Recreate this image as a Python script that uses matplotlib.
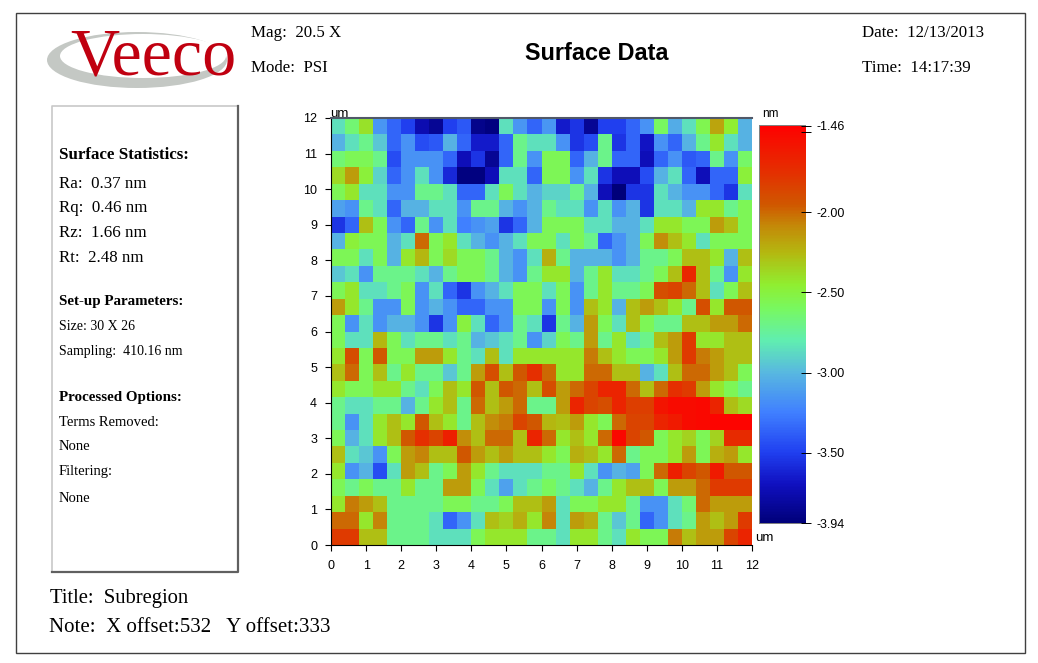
import numpy as np
import matplotlib
matplotlib.use("Agg")
import matplotlib.pyplot as plt
from matplotlib.colors import LinearSegmentedColormap
from matplotlib.patches import Ellipse, Rectangle

W, H = 1038, 663

# surface height in nm, top row of the map first
heights = [
    [-2.85, -2.65, -2.40, -3.15, -3.35, -3.50, -3.75, -3.85, -3.50, -3.40, -3.88, -3.92, -2.85, -3.15, -3.35, -3.15, -3.65, -3.55, -3.85, -3.50, -3.50, -3.35, -3.17, -2.60, -3.05, -2.85, -2.55, -2.18, -2.45, -3.02],
    [-3.02, -2.85, -2.70, -2.95, -3.35, -3.17, -3.45, -3.40, -3.02, -3.35, -3.65, -3.65, -3.35, -2.70, -2.85, -2.85, -3.17, -3.55, -3.45, -2.70, -3.55, -3.35, -3.68, -3.17, -3.35, -3.02, -2.70, -2.42, -2.85, -3.02],
    [-2.65, -2.57, -2.57, -2.70, -3.45, -3.17, -3.17, -3.17, -3.35, -3.72, -3.55, -3.85, -3.35, -2.70, -3.17, -2.57, -2.57, -3.35, -3.02, -2.70, -3.35, -3.35, -3.72, -3.35, -3.17, -3.40, -3.35, -2.70, -3.17, -2.62],
    [-2.38, -2.15, -2.48, -2.90, -3.35, -3.17, -2.85, -3.17, -3.60, -3.92, -3.92, -3.72, -2.85, -2.85, -3.35, -2.57, -2.57, -3.17, -2.85, -3.55, -3.72, -3.72, -3.45, -3.02, -2.85, -3.35, -3.72, -3.35, -3.35, -2.48],
    [-2.57, -2.42, -2.85, -2.85, -3.17, -3.17, -2.70, -2.70, -2.85, -3.35, -3.35, -2.85, -2.57, -2.85, -3.02, -2.90, -2.90, -2.70, -3.02, -3.72, -3.94, -3.55, -3.55, -2.85, -3.02, -3.17, -3.17, -3.35, -3.55, -2.85],
    [-3.10, -3.17, -2.70, -2.85, -3.35, -3.02, -3.02, -2.85, -2.85, -3.17, -2.70, -2.70, -3.02, -3.17, -3.02, -2.70, -2.85, -2.85, -3.17, -2.85, -3.17, -3.02, -3.55, -2.85, -2.85, -3.02, -2.42, -2.42, -2.70, -2.57],
    [-3.55, -3.35, -2.28, -2.57, -3.17, -3.35, -2.70, -3.17, -2.85, -3.25, -3.17, -3.10, -3.55, -3.35, -3.02, -2.57, -2.57, -2.57, -2.85, -2.85, -3.02, -3.02, -2.85, -2.42, -2.42, -2.57, -2.57, -2.15, -2.28, -2.57],
    [-3.02, -2.48, -2.57, -2.57, -3.02, -2.85, -2.00, -2.57, -2.42, -2.85, -3.02, -3.17, -3.02, -2.85, -2.57, -2.57, -2.85, -2.57, -2.70, -3.35, -3.17, -3.02, -2.57, -2.10, -2.28, -2.42, -2.85, -2.57, -2.57, -2.57],
    [-2.57, -2.57, -2.85, -2.57, -3.02, -2.42, -2.25, -2.57, -2.38, -2.57, -2.57, -2.70, -3.02, -3.17, -2.85, -2.22, -2.70, -3.02, -3.02, -3.02, -3.17, -3.02, -2.70, -2.70, -2.57, -2.28, -2.28, -2.42, -3.02, -2.28],
    [-2.95, -2.85, -3.17, -2.70, -2.70, -2.70, -2.85, -3.02, -2.70, -2.57, -2.57, -2.70, -3.02, -3.17, -2.70, -2.42, -2.42, -3.02, -2.70, -2.42, -2.85, -2.85, -2.70, -2.57, -2.28, -1.70, -2.28, -2.70, -3.17, -2.42],
    [-2.57, -2.42, -2.85, -2.85, -2.70, -2.57, -3.17, -2.85, -3.35, -3.55, -3.17, -3.02, -2.85, -2.57, -2.57, -2.85, -2.57, -3.17, -2.70, -2.42, -2.70, -2.70, -2.57, -1.90, -1.85, -2.00, -2.28, -2.85, -2.57, -2.28],
    [-2.15, -2.42, -2.70, -3.17, -3.17, -2.57, -3.17, -3.02, -3.17, -3.35, -3.35, -3.17, -3.17, -2.57, -2.57, -3.17, -2.57, -3.17, -2.28, -2.42, -3.02, -2.28, -2.15, -2.28, -2.42, -2.70, -1.90, -2.42, -1.95, -1.95],
    [-2.57, -3.17, -2.85, -3.17, -3.02, -3.02, -3.17, -3.55, -3.17, -2.50, -2.85, -3.35, -3.17, -2.70, -2.85, -3.55, -2.70, -3.02, -2.15, -2.57, -2.85, -2.28, -2.57, -2.70, -2.70, -2.28, -2.28, -2.15, -2.15, -2.00],
    [-2.57, -2.85, -2.85, -2.25, -2.57, -2.85, -2.70, -2.70, -2.85, -2.70, -3.02, -2.95, -2.85, -2.70, -3.17, -2.90, -2.57, -2.70, -2.15, -2.70, -2.42, -2.85, -2.70, -2.28, -2.15, -1.80, -2.42, -2.42, -2.28, -2.28],
    [-2.42, -1.90, -2.57, -1.95, -2.57, -2.57, -2.15, -2.15, -2.42, -2.70, -2.85, -2.28, -2.85, -2.42, -2.42, -2.42, -2.42, -2.42, -2.05, -2.28, -2.42, -2.57, -2.57, -2.42, -2.15, -1.80, -2.05, -2.15, -2.28, -2.28],
    [-2.28, -2.00, -2.57, -2.28, -2.70, -2.42, -2.70, -2.70, -2.95, -2.70, -2.15, -1.90, -2.28, -1.95, -1.75, -2.00, -2.42, -2.42, -2.00, -2.00, -2.28, -2.28, -3.02, -2.85, -2.28, -2.00, -2.00, -2.15, -2.28, -2.57],
    [-2.42, -2.57, -2.57, -2.42, -2.42, -2.70, -2.85, -2.57, -2.28, -2.42, -1.95, -2.28, -1.95, -2.00, -2.28, -1.90, -2.15, -2.00, -1.85, -1.68, -1.68, -2.00, -2.28, -2.00, -1.75, -1.80, -2.15, -2.42, -2.57, -2.70],
    [-2.70, -2.85, -2.85, -2.70, -2.70, -3.02, -2.70, -2.42, -2.28, -2.70, -2.00, -2.28, -2.15, -2.00, -2.70, -2.70, -2.15, -1.68, -1.85, -1.90, -1.68, -1.82, -1.82, -1.58, -1.52, -1.52, -1.50, -1.68, -2.28, -2.38],
    [-2.70, -3.17, -2.85, -2.42, -2.28, -2.42, -1.95, -2.28, -2.42, -2.70, -2.28, -2.10, -2.05, -1.85, -1.95, -2.25, -2.28, -2.15, -2.42, -2.57, -2.00, -1.85, -1.85, -1.68, -1.62, -1.52, -1.50, -1.48, -1.48, -1.48],
    [-2.57, -3.02, -2.85, -2.42, -2.28, -1.95, -1.75, -1.85, -1.65, -2.10, -2.28, -2.00, -2.00, -2.28, -1.68, -2.00, -2.42, -2.28, -2.42, -2.00, -1.50, -1.85, -1.95, -2.57, -2.42, -2.35, -2.57, -2.35, -1.72, -1.72],
    [-2.28, -2.85, -2.95, -3.17, -2.57, -2.15, -2.08, -2.28, -2.28, -1.95, -2.15, -2.28, -2.15, -2.28, -2.28, -2.42, -2.57, -2.22, -2.28, -2.42, -2.00, -2.70, -2.57, -2.57, -2.42, -2.15, -2.57, -2.22, -2.15, -2.42],
    [-2.42, -3.17, -3.02, -3.45, -2.85, -2.15, -2.28, -2.70, -2.57, -2.15, -2.42, -2.70, -2.85, -2.85, -2.85, -2.70, -2.70, -2.42, -2.85, -3.17, -3.02, -3.10, -2.57, -2.00, -1.65, -1.85, -1.95, -1.62, -1.95, -1.95],
    [-2.57, -2.70, -2.57, -2.70, -2.70, -2.42, -2.70, -2.70, -2.15, -2.15, -2.57, -2.85, -3.10, -2.85, -2.70, -2.60, -2.70, -2.85, -3.02, -2.70, -2.42, -2.28, -2.28, -2.57, -2.15, -2.15, -2.00, -1.80, -1.80, -1.80],
    [-2.42, -2.05, -2.15, -2.28, -2.70, -2.70, -2.70, -2.70, -2.57, -2.57, -2.70, -2.70, -2.57, -2.28, -2.28, -2.15, -2.85, -2.57, -2.57, -2.42, -2.42, -2.70, -3.17, -3.17, -2.85, -2.65, -2.00, -2.15, -2.15, -2.15],
    [-2.00, -2.00, -2.42, -2.08, -2.70, -2.70, -2.70, -2.85, -3.35, -3.17, -2.85, -2.28, -2.35, -2.22, -2.42, -2.08, -2.85, -2.15, -2.22, -2.70, -2.95, -2.70, -3.35, -3.17, -2.85, -2.70, -2.15, -2.28, -2.15, -1.80],
    [-1.80, -1.80, -2.28, -2.28, -2.70, -2.70, -2.70, -2.85, -2.85, -2.85, -2.57, -2.42, -2.42, -2.42, -2.70, -2.70, -2.85, -2.42, -2.42, -2.70, -2.85, -2.42, -2.57, -2.57, -2.05, -2.28, -2.15, -2.15, -1.85, -1.68],
]

z_min, z_max = -3.94, -1.46
axis_ticks = [0, 1, 2, 3, 4, 5, 6, 7, 8, 9, 10, 11, 12]
bar_ticks = [-1.46, -1.5, -2.0, -2.5, -3.0, -3.5, -3.94]
bar_labels = ["-1.46", "", "-2.00", "-2.50", "-3.00", "-3.50", "-3.94"]

stat_lines = ["Ra:  0.37 nm", "Rq:  0.46 nm", "Rz:  1.66 nm", "Rt:  2.48 nm"]
stat_rows = [183, 207, 232, 257]
setup_lines = ["Size: 30 X 26", "Sampling:  410.16 nm"]
setup_rows = [325, 350]
option_lines = ["Terms Removed:", "None", "Filtering:", "None"]
option_rows = [421, 446, 471, 498]

SERIF = "Liberation Serif"
SANS = "Liberation Sans"

# anchors
bar_colors = [
    (-3.94, "#00007a"), (-3.70, "#1010c0"), (-3.50, "#2040f0"), (-3.25, "#4080ff"),
    (-3.00, "#58b8e0"), (-2.80, "#60eeb0"), (-2.60, "#78f860"), (-2.45, "#90ee30"),
    (-2.25, "#b4b810"), (-2.08, "#c48808"), (-1.95, "#d05800"), (-1.75, "#e43000"),
    (-1.50, "#fa0800"), (-1.46, "#ff0000"),
]
stops = [((v - z_min) / (z_max - z_min), c) for v, c in bar_colors]
surface_cmap = LinearSegmentedColormap.from_list("surface", stops, N=256)


def px_axes(fig, left, top, right, bottom):
    return fig.add_axes([left / W, 1 - bottom / H, (right - left) / W, (bottom - top) / H])


def put_text(ax, x, y, s, size=12.2, family=SERIF, **kw):
    ax.text(x, y + 1, s, fontsize=size, family=family, va="center", ha=kw.pop("ha", "left"), **kw)


def draw_page(ax):
    ax.set_xlim(0, W)
    ax.set_ylim(H, 0)
    ax.axis("off")
    ax.add_patch(Rectangle((16, 13), 1009, 640, fill=False, ec="#404040", lw=1))

    # side panel, raised look: light top and left, dark right and bottom
    ax.plot([52, 52, 238], [572, 106, 106], color="#c8c8c8", lw=1.2)
    ax.plot([238, 238, 52], [106, 572, 572], color="#606060", lw=1.6)

    # logo
    ax.add_patch(Ellipse((137, 60), 180, 56, fc="#c4c8c4", ec="none", zorder=1))
    ax.add_patch(Ellipse((143, 56), 166, 44, fc="white", ec="none", zorder=2))
    ax.text(70, 74, "Veeco", fontsize=49, family=SERIF, color="#c00010", va="baseline", zorder=3)

    put_text(ax, 251, 32, "Mag:  20.5 X")
    put_text(ax, 251, 67, "Mode:  PSI")
    put_text(ax, 862, 32, "Date:  12/13/2013")
    put_text(ax, 862, 67, "Time:  14:17:39")
    put_text(ax, 597, 53, "Surface Data", size=16.9, family=SANS, weight="bold", ha="center")

    put_text(ax, 59, 154, "Surface Statistics:", weight="bold")
    for s, y in zip(stat_lines, stat_rows):
        put_text(ax, 59, y, s)
    put_text(ax, 59, 300, "Set-up Parameters:", size=10.8, weight="bold")
    for s, y in zip(setup_lines, setup_rows):
        put_text(ax, 59, y, s, size=10)
    put_text(ax, 59, 396, "Processed Options:", size=10.8, weight="bold")
    for s, y in zip(option_lines, option_rows):
        put_text(ax, 59, y, s, size=10.5)

    put_text(ax, 50, 597, "Title:  Subregion", size=14.9)
    put_text(ax, 49, 627, "Note:  X offset:532   Y offset:333", size=15)

    put_text(ax, 330, 113, "um", size=9.5, family=SANS)
    put_text(ax, 755, 537, "um", size=9.5, family=SANS)
    put_text(ax, 762, 113, "nm", size=8.5, family=SANS)

    # colour bar frame shows on top, left and bottom only
    ax.add_patch(Rectangle((759, 125), 47, 399, fc="#808080", ec="none"))


def draw_map(fig):
    ax = px_axes(fig, 331, 118, 752, 545)
    x = np.linspace(0, 12, 31)
    y = np.linspace(12, 0, 27)
    mesh = ax.pcolormesh(x, y, np.array(heights), cmap=surface_cmap, vmin=z_min, vmax=z_max)
    ax.set_xticks(axis_ticks)
    ax.set_yticks(axis_ticks)
    ax.tick_params(length=4, width=0.8, labelsize=9)
    ax.tick_params(axis="x", pad=7)
    ax.tick_params(axis="y", pad=6)
    for lab in ax.get_xticklabels() + ax.get_yticklabels():
        lab.set_family(SANS)
    ax.spines["right"].set_visible(False)
    ax.spines["top"].set_color("#505868")
    ax.spines["top"].set_linewidth(1.5)

    cax = px_axes(fig, 760, 126, 806, 523)
    bar = fig.colorbar(mesh, cax=cax, ticks=bar_ticks)
    bar.ax.set_yticklabels(bar_labels)
    bar.ax.tick_params(direction="inout", length=7, width=0.7, labelsize=9, pad=4)
    for lab in bar.ax.get_yticklabels():
        lab.set_family(SANS)
    bar.outline.set_visible(False)


fig = plt.figure(figsize=(W / 100, H / 100), dpi=100)
page = fig.add_axes([0, 0, 1, 1])
draw_page(page)
draw_map(fig)
fig.savefig("out.png", dpi=100)
